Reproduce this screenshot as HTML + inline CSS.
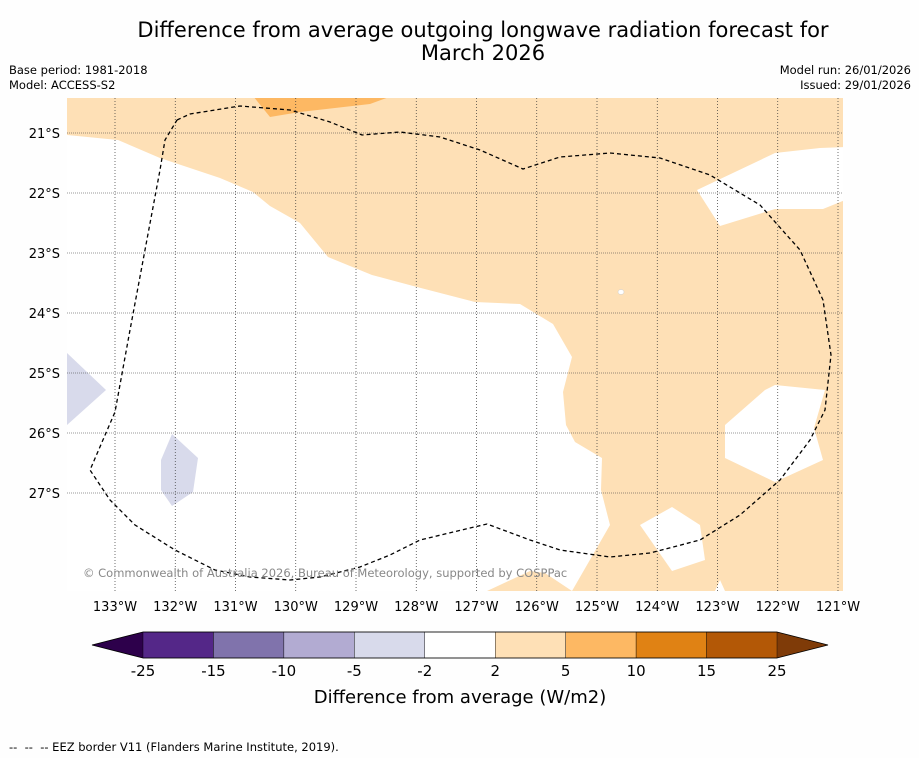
<!DOCTYPE html>
<html><head><meta charset="utf-8"><style>
body{margin:0;background:#fff;font-family:"DejaVu Sans","Liberation Sans",sans-serif;}
#wrap{position:relative;width:919px;height:758px;overflow:hidden;background:#fefefe}
.t{position:absolute;font-size:11.5px;color:#000}
svg text{font-family:"DejaVu Sans","Liberation Sans",sans-serif}
</style></head><body>
<div id="wrap">
<div class="t" style="left:0;width:966px;top:19px;text-align:center;font-size:21px;line-height:23px">Difference from average outgoing longwave radiation forecast for<br>March 2026</div>
<div class="t" style="left:9px;top:63px;line-height:15px">Base period: 1981-2018<br>Model: ACCESS-S2</div>
<div class="t" style="right:8px;top:63px;line-height:15px;text-align:right">Model run: 26/01/2026<br>Issued: 29/01/2026</div>
<svg id="svg" width="919" height="758" style="position:absolute;left:0;top:0"></svg>
<div class="t" style="left:9px;top:740px">-- &nbsp;-- &nbsp;-- EEZ border V11 (Flanders Marine Institute, 2019).</div>
</div>
<script>
const lonTicks=[-133,-132,-131,-130,-129,-128,-127,-126,-125,-124,-123,-122,-121];
const latTicks=[-21,-22,-23,-24,-25,-26,-27];
const levels=[-25,-15,-10,-5,-2,2,5,10,15,25];
const levelColors=["#542788","#8073ac","#b2abd2","#d8daeb","#ffffff","#fee0b6","#fdb863","#e08214","#b35806"];
const extColors=["#2d004b","#7f3b08"];
const NS="http://www.w3.org/2000/svg";
const svg=document.getElementById('svg');
const X0=67,X1=843,Y0=98,Y1=591;
const xs=lon=>115+(lon+133)*60.25;
const ys=lat=>133+(-21-lat)*60;
function mk(tag,attrs,parent){const e=document.createElementNS(NS,tag);for(const k in attrs)e.setAttribute(k,attrs[k]);(parent||svg).appendChild(e);return e;}
const clip=mk('clipPath',{id:'mc'});mk('rect',{x:X0,y:Y0,width:X1-X0,height:Y1-Y0},clip);
const g=mk('g',{'clip-path':'url(#mc)'});
let bg=mk('rect',{x:X0,y:Y0,width:X1-X0,height:Y1-Y0,fill:'#fee0b6'},g);

function poly(pts,fill,name){const p=mk('polygon',{points:pts,fill:fill},g);}
poly("67,135 118,140 160,158 220,178 253,192 270,206 300,223 328,257 372,275 417,287 475,302 520,304 553,324 572,357 563,392 566,425 575,442 602,458 601,490 610,525 572,591 545,573 530,571 487,591 67,591","#ffffff","neutral-region-west");
poly("697,190 775,153 820,148 845,147 845,200 823,209 775,209 720,226","#ffffff","neutral-region-ne");
poly("725,425 765,390 775,385 825,390 814,428 823,460 775,482 725,458","#ffffff","neutral-region-east");
poly("640,525 672,507 700,525 705,560 672,571","#ffffff","neutral-region-se");
poly("715,591 720,580 725,591","#ffffff","neutral-region-s");
poly("253,96 270,117 300,112 370,104 392,96","#fdb863","positive-region-north");
poly("67,353 106,390 67,425","#d8daeb","negative-region-west");
poly("172,434 198,458 193,492 172,506 161,490 161,460","#d8daeb","negative-region-sw");
mk('ellipse',{cx:621,cy:292,rx:3,ry:2.5,fill:'#fff',stroke:'#ccc','stroke-width':0.5},g);
lonTicks.forEach(l=>{const ln=mk('line',{x1:xs(l),x2:xs(l),y1:Y0,y2:Y1,stroke:'#333','stroke-width':0.7,'stroke-dasharray':'1,2'},g);
 const t=mk('text',{x:xs(l),y:611,'text-anchor':'middle','font-size':13});t.textContent=(-l)+'°W';});
latTicks.forEach(l=>{const ln=mk('line',{x1:X0,x2:X1,y1:ys(l),y2:ys(l),stroke:'#333','stroke-width':0.6,'stroke-dasharray':'1,1'},g);
 const t=mk('text',{x:60,y:ys(l)+5,'text-anchor':'end','font-size':13});t.textContent=(-l)+'°S';});
const eez=mk('polyline',{points:"177,120 190,114 240,106 290,110 330,122 362,135 400,132 440,137 480,150 523,169 560,157 610,153 660,158 710,175 760,205 800,250 823,300 831,355 825,410 810,440 780,480 740,515 700,540 650,553 610,557 560,550 530,540 487,524 470,528 420,540 390,555 360,567 320,577 290,580 250,577 215,570 175,550 135,525 110,500 90,470 115,412 130,330 145,250 160,170 165,140 177,120",fill:'none',stroke:'#000','stroke-width':1.3,'stroke-dasharray':'4,3'},g);

const cp=mk('text',{x:83,y:577,'font-size':11.5,fill:'#888'},g);cp.textContent='© Commonwealth of Australia 2026, Bureau of Meteorology, supported by COSPPac';

const cbX0=143,cbX1=777,cbY=632,cbH=26;
const cx=i=>cbX0+i*(cbX1-cbX0)/(levels.length-1);
const left=mk('polygon',{points:`92,${cbY+cbH/2} ${cbX0},${cbY} ${cbX0},${cbY+cbH}`,fill:extColors[0]});

const right=mk('polygon',{points:`828,${cbY+cbH/2} ${cbX1},${cbY} ${cbX1},${cbY+cbH}`,fill:extColors[1]});

levelColors.forEach((c,i)=>{const r=mk('rect',{x:cx(i),y:cbY,width:cx(i+1)-cx(i),height:cbH,fill:c,stroke:'#000','stroke-width':0.4});});
mk('polygon',{points:`92,${cbY+cbH/2} ${cbX0},${cbY} ${cbX1},${cbY} 828,${cbY+cbH/2} ${cbX1},${cbY+cbH} ${cbX0},${cbY+cbH}`,fill:'none',stroke:'#000','stroke-width':0.8});
levels.forEach((v,i)=>{const t=mk('text',{x:cx(i),y:676,'text-anchor':'middle','font-size':15});t.textContent=v;});
const ct=mk('text',{x:460,y:703,'text-anchor':'middle','font-size':18});ct.textContent='Difference from average (W/m2)';

</script>
</body></html>
